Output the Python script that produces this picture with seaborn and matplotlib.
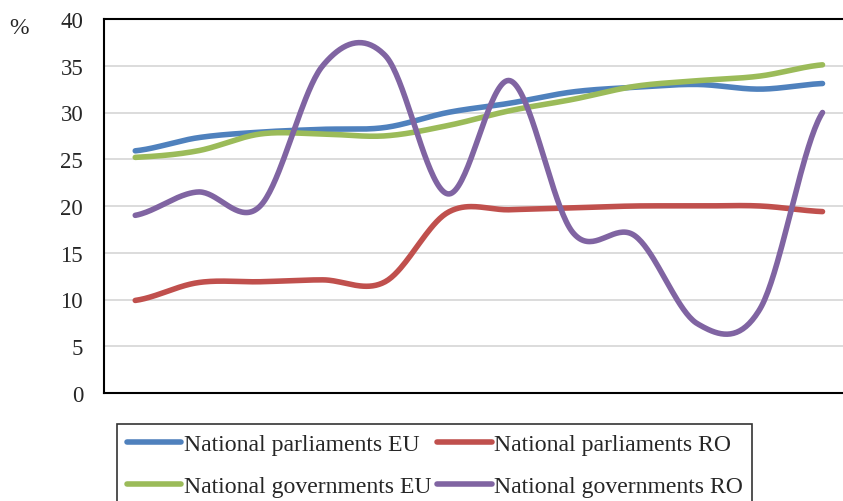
import numpy as np
import pandas as pd
import matplotlib
matplotlib.use("Agg")
import matplotlib.pyplot as plt
import seaborn as sns
from matplotlib.lines import Line2D

# ---- data ----
categories = list(range(1, 13))
parl_eu = [25.9, 27.3, 27.9, 28.2, 28.4, 30.0, 31.0, 32.2, 32.7, 33.0, 32.5, 33.1]
parl_ro = [9.9, 11.8, 11.9, 12.1, 11.9, 19.3, 19.6, 19.8, 20.0, 20.0, 20.0, 19.4]
gov_eu = [25.2, 25.9, 27.7, 27.7, 27.5, 28.6, 30.2, 31.4, 32.8, 33.4, 33.9, 35.1]
gov_ro = [19.0, 21.5, 20.0, 35.0, 36.1, 21.3, 33.4, 17.2, 16.8, 7.4, 9.0, 30.0]
yticks = [0, 5, 10, 15, 20, 25, 30, 35, 40]

series = {
    "National parliaments EU": parl_eu,
    "National parliaments RO": parl_ro,
    "National governments EU": gov_eu,
    "National governments RO": gov_ro,
}
colors = {
    "National parliaments EU": "#4F81BD",
    "National parliaments RO": "#C0504D",
    "National governments EU": "#9BBB59",
    "National governments RO": "#8064A2",
}


def smooth_curve(values, n=40):
    """Bezier smoothing (Excel-like 'smoothed line') through the given points."""
    y = np.asarray(values, float)
    p = np.concatenate([[y[0]], y, [y[-1]]])
    xs, ys = [], []
    t = np.linspace(0, 1, n, endpoint=False)
    for i in range(len(y) - 1):
        p0, p1, p2, p3 = p[i], p[i + 1], p[i + 2], p[i + 3]
        b1 = p1 + (p2 - p0) / 6.0
        b2 = p2 - (p3 - p1) / 6.0
        yy = (1 - t) ** 3 * p1 + 3 * (1 - t) ** 2 * t * b1 + 3 * (1 - t) * t ** 2 * b2 + t ** 3 * p2
        xs.append(i + t)
        ys.append(yy)
    xs.append([len(y) - 1])
    ys.append([y[-1]])
    return np.concatenate(xs), np.concatenate(ys)


frames = []
for name, vals in series.items():
    xx, yy = smooth_curve(vals)
    frames.append(pd.DataFrame({"x": xx, "value": yy, "series": name}))
df = pd.concat(frames, ignore_index=True)

sns.set_style("white")
plt.rcParams["font.family"] = ["Liberation Serif", "DejaVu Serif"]

fig = plt.figure(figsize=(8.43, 5.02), dpi=100)
ax = fig.add_axes([104 / 843, 108 / 502, 749.75 / 843, 374 / 502])

sns.lineplot(data=df, x="x", y="value", hue="series", palette=colors,
             hue_order=list(series.keys()), linewidth=4.0, ax=ax,
             legend=False, sort=False, estimator=None)

ax.set_xlim(-0.5, len(categories) - 0.5)
ax.set_ylim(0, 40)
ax.set_yticks(yticks)
ax.set_yticklabels([str(v) for v in yticks], fontsize=16.5)
ax.set_xticks([])
ax.set_xlabel("")
ax.set_ylabel("")
ax.tick_params(axis="y", length=0, pad=15)
ax.grid(axis="y", color="#D9D9D9", linewidth=1.3)
ax.set_axisbelow(True)
for s in ["left", "top", "bottom", "right"]:
    ax.spines[s].set_color("black")
    ax.spines[s].set_linewidth(1.5)

fig.text(19 / 843, 1 - 29 / 502, "%", fontsize=17, ha="center", va="center")

order = ["National parliaments EU", "National governments EU",
         "National parliaments RO", "National governments RO"]
handles = [Line2D([0], [0], color=colors[k], linewidth=4.0) for k in order]
leg = fig.legend(handles, order, ncol=2, loc="upper left",
                 bbox_to_anchor=(117 / 843, 1 - 425 / 502),
                 fontsize=17.1, frameon=True, fancybox=False,
                 handlelength=2.3, handletextpad=0.1, columnspacing=0.25,
                 labelspacing=0.85, borderpad=0.4, borderaxespad=0)
leg.get_frame().set_edgecolor("black")
leg.get_frame().set_linewidth(1.2)

fig.savefig("out.png", dpi=100)
